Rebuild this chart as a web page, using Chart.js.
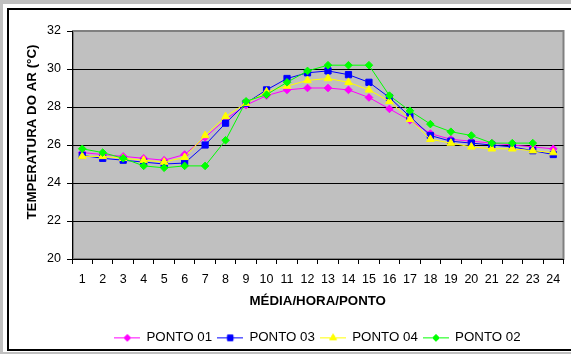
<!DOCTYPE html>
<html>
<head>
<meta charset="utf-8">
<script src="https://cdn.jsdelivr.net/npm/chart.js@4.4.1/dist/chart.umd.min.js"></script>
<style>
  html, body { margin: 0; padding: 0; width: 571px; height: 354px; overflow: hidden; background: #c0c0c0; }
  #sheet { position: absolute; left: 3px; top: 4px; width: 620px; height: 348px; background: #fff; }
  #frame { position: absolute; left: 7px; top: 8px; width: 620px; height: 343px; border: 2px solid #000; box-sizing: border-box; }
  #wrap { position: absolute; left: 0; top: 0; width: 571px; height: 354px; }
</style>
</head>
<body>
<div id="sheet"></div>
<div id="frame"></div>
<div id="wrap"><canvas id="chart" width="571" height="354"></canvas></div>
<script>
// Hourly mean air temperature (°C) at each measuring point
const hours = ['1','2','3','4','5','6','7','8','9','10','11','12','13','14','15','16','17','18','19','20','21','22','23','24'];
const ponto01 = [25.6, 25.5, 25.4, 25.3, 25.2, 25.5, 26.4, 27.35, 28.1, 28.6, 28.9, 29.0, 29.0, 28.9, 28.5, 27.9, 27.3, 26.6, 26.3, 26.2, 26.1, 26.0, 25.9, 25.8];
const ponto03 = [25.45, 25.3, 25.2, 25.1, 25.0, 25.05, 26.0, 27.15, 28.2, 28.9, 29.5, 29.8, 29.9, 29.7, 29.3, 28.5, 27.5, 26.5, 26.2, 26.1, 26.0, 25.9, 25.7, 25.5];
const ponto04 = [25.4, 25.4, 25.3, 25.2, 25.1, 25.35, 26.5, 27.5, 28.2, 28.8, 29.1, 29.4, 29.5, 29.3, 28.9, 28.3, 27.35, 26.3, 26.1, 25.9, 25.8, 25.8, 25.7, 25.6];
const ponto02 = [25.8, 25.6, 25.3, 24.9, 24.8, 24.9, 24.9, 26.25, 28.3, 28.65, 29.3, 29.9, 30.2, 30.2, 30.2, 28.6, 27.8, 27.1, 26.7, 26.5, 26.1, 26.1, 26.1, null];
const yTicks = [20, 22, 24, 26, 28, 30, 32];

const FONT = "'Liberation Sans', Arial, sans-serif";

function series(label, data, color, pointStyle, radius, order) {
  return {
    label, data, order,
    borderColor: color, backgroundColor: color,
    pointBackgroundColor: color, pointBorderColor: color,
    borderWidth: 1, pointStyle, pointRadius: radius, pointBorderWidth: 1,
    tension: 0, spanGaps: false
  };
}

const datasets = [
  series('PONTO 01', ponto01, '#ff00ff', 'rectRot', 3.8, 4),
  series('PONTO 03', ponto03, '#0000ff', 'rect', 4.4, 3),
  series('PONTO 04', ponto04, '#ffff00', 'triangle', 4.4, 2),
  series('PONTO 02', ponto02, '#00ff00', 'rectRot', 3.8, 1)
];

// legend keys: a short line with the series marker in its middle
function legendIcon(ds) {
  const c = document.createElement('canvas');
  c.width = 26; c.height = 10;
  const g = c.getContext('2d');
  g.strokeStyle = ds.borderColor; g.lineWidth = 1;
  g.beginPath(); g.moveTo(0, 5.5); g.lineTo(26, 5.5); g.stroke();
  g.fillStyle = ds.borderColor;
  Chart.helpers.drawPoint(g, { pointStyle: ds.pointStyle, radius: ds.pointRadius * 0.85, borderWidth: 1, rotation: 0 }, 13, 5.5);
  g.fill(); g.stroke();
  return c;
}

const plotBackground = {
  id: 'plotBackground',
  beforeDraw(chart) {
    const { ctx, chartArea: a } = chart;
    ctx.save();
    ctx.fillStyle = '#c0c0c0';
    ctx.fillRect(a.left, a.top, a.width, a.height);
    ctx.strokeStyle = '#808080';
    ctx.lineWidth = 2;
    ctx.strokeRect(a.left + 1, a.top, a.width - 1, a.height);
    ctx.restore();
  }
};

new Chart(document.getElementById('chart'), {
  type: 'line',
  data: { labels: hours, datasets },
  plugins: [plotBackground],
  options: {
    responsive: false,
    animation: false,
    devicePixelRatio: 1,
    layout: { padding: { top: 31, right: 7.5, bottom: 0, left: 0 } },
    plugins: {
      tooltip: { enabled: false },
      title: { display: false },
      legend: {
        position: 'bottom',
        fullSize: false,
        labels: {
          usePointStyle: true,
          pointStyleWidth: 25,
          padding: 5.7,
          color: '#000',
          font: { family: FONT, size: 13.3 },
          generateLabels(chart) {
            return chart.data.datasets.map((ds, i) => ({
              text: ds.label,
              pointStyle: legendIcon(ds),
              fillStyle: ds.borderColor,
              strokeStyle: ds.borderColor,
              lineWidth: 0,
              hidden: false,
              datasetIndex: i,
              fontColor: '#000'
            }));
          }
        }
      }
    },
    scales: {
      x: {
        type: 'category',
        offset: true,
        afterFit(scale) { scale.height = 66; },
        grid: { display: true, offset: true, drawOnChartArea: false, drawTicks: true, tickLength: 5, color: '#000', tickColor: '#000' },
        border: { display: true, color: '#000', width: 1 },
        ticks: { color: '#000', padding: 8.5, maxRotation: 0, autoSkip: false, font: { family: FONT, size: 12.5 } },
        title: {
          display: true, text: 'MÉDIA/HORA/PONTO', color: '#000',
          font: { family: FONT, size: 13.3, weight: 'bold' },
          padding: { top: 0, bottom: 16 }
        }
      },
      y: {
        min: 20, max: 32,
        afterFit(scale) { scale.width = 72; },
        afterBuildTicks(scale) { scale.ticks = yTicks.map(v => ({ value: v })); },
        grid: {
          color: (c) => (c.tick && c.tick.value === 32 ? '#808080' : '#000'),
          tickColor: '#000', tickLength: 5, lineWidth: 1
        },
        border: { display: true, color: '#000', width: 1 },
        ticks: { color: '#000', padding: 6, font: { family: FONT, size: 12.5 } },
        title: {
          display: true, text: '       TEMPERATURA DO AR (°C)', color: '#000',
          font: { family: FONT, size: 13.3, weight: 'bold' },
          padding: { top: 24, bottom: 0 }
        }
      }
    }
  }
});
</script>
</body>
</html>
